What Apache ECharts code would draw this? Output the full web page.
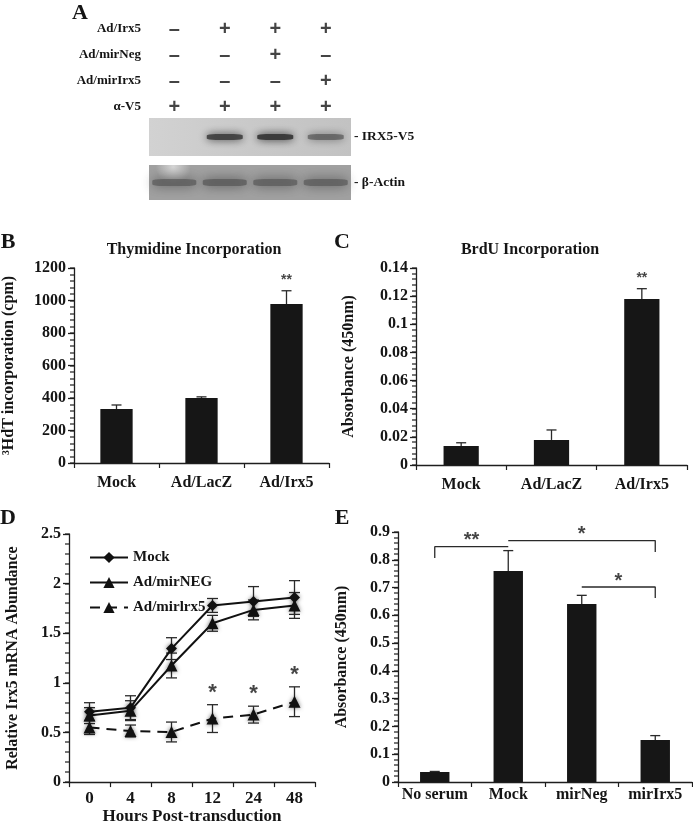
<!DOCTYPE html>
<html><head><meta charset="utf-8">
<script src="https://cdn.jsdelivr.net/npm/echarts@6/dist/echarts.min.js"></script>
<style>html,body{margin:0;padding:0;background:#fff}#c{width:693px;height:826px}</style>
</head><body><div id="c"></div>
<script>
// ---------- Panel A (western blot table) ----------
const lanes = ['1', '2', '3', '4'];
const tableRows = ['Ad/Irx5', 'Ad/mirNeg', 'Ad/mirIrx5', 'α-V5'];
const tableSigns = [
  ['-', '+', '+', '+'],
  ['-', '-', '+', '-'],
  ['-', '-', '-', '+'],
  ['+', '+', '+', '+']
];
const irx5Band = [0, 0.8, 0.9, 0.5];
const actinBand = [0.65, 0.7, 0.65, 0.65];
const blotLabels = ['IRX5-V5', 'β-Actin'];

// ---------- Panel B ----------
const bCats = ['Mock', 'Ad/LacZ', 'Ad/Irx5'];
const bVals = [332, 400, 978];
const bErr = [25, 7, 82];
const bSig = ['', '', '**'];

// ---------- Panel C ----------
const cCats = ['Mock', 'Ad/LacZ', 'Ad/Irx5'];
const cVals = [0.0135, 0.0178, 0.118];
const cErr = [0.0023, 0.0071, 0.0073];
const cSig = ['', '', '**'];

// ---------- Panel D ----------
const dHours = ['0', '4', '8', '12', '24', '48'];
const dMock = [0.71, 0.75, 1.345, 1.78, 1.82, 1.86];
const dMockErr = [0.09, 0.12, 0.11, 0.07, 0.15, 0.17];
const dNeg = [0.67, 0.72, 1.175, 1.6, 1.735, 1.78];
const dNegErr = [0.08, 0.1, 0.125, 0.08, 0.1, 0.13];
const dMir = [0.55, 0.515, 0.505, 0.64, 0.68, 0.81];
const dMirErr = [0.07, 0.06, 0.1, 0.14, 0.085, 0.15];
const dSig = ['', '', '', '*', '*', '*'];
const dNames = ['Mock', 'Ad/mirNEG', 'Ad/mirlrx5'];

// ---------- Panel E ----------
const eCats = ['No serum', 'Mock', 'mirNeg', 'mirIrx5'];
const eVals = [0.036, 0.76, 0.641, 0.151];
const eErr = [0.002, 0.073, 0.031, 0.016];
const eBrackets = [[0, 1], [1, 3], [2, 3]];
const eBracketY = [0.847, 0.869, 0.702];
const eBracketLegAt = [0, 3, 3];
const eBracketLegY = [0.806, 0.828, 0.662];
const eBracketSig = ['**', '*', '*'];

// ---------- styling helpers ----------
const SERIF = 'Liberation Serif';
const INK = '#151515';
const txt = (size) => ({ fontFamily: SERIF, fontWeight: 'bold', fontSize: size, color: INK });
const axisCol = '#1e1e1e';

function valAxis(gi, max, interval, name, nameGap, labelSize) {
  return {
    type: 'value', gridIndex: gi, min: 0, max: max, interval: interval, position: 'left',
    name: name, nameLocation: 'middle', nameGap: nameGap, nameTextStyle: txt(16),
    axisLine: { show: true, lineStyle: { color: axisCol, width: 1.3 } },
    axisTick: { show: true, length: 6, lineStyle: { color: axisCol, width: 1.3 } },
    splitLine: { show: false },
    axisLabel: Object.assign(txt(labelSize || 16), { margin: 8, formatter: v => String(+v.toFixed(4)) })
  };
}
// small ticks between the labelled ticks, placed through the value axis
function minorTickSeries(xi, yi, max, step) {
  const vals = [];
  for (let k = 0; k * step <= max + 1e-9; k++) vals.push([0, +(k * step).toFixed(6)]);
  return {
    type: 'custom', xAxisIndex: xi, yAxisIndex: yi, silent: true, clip: false, z: 8,
    encode: { x: 0, y: 1 }, data: vals,
    renderItem: (params, api) => {
      const y = Math.round(api.coord([0, api.value(1)])[1]);
      const x0 = params.coordSys.x;
      return { type: 'rect', shape: { x: x0 - 4, y: y - 0.6, width: 4, height: 1.2 }, style: { fill: axisCol } };
    }
  };
}
function catAxis(gi, data, margin, labelSize, extra) {
  return Object.assign({
    type: 'category', gridIndex: gi, data: data, boundaryGap: true,
    axisLine: { show: true, lineStyle: { color: axisCol, width: 1.3 } },
    axisTick: { show: true, length: 5, alignWithLabel: false, lineStyle: { color: axisCol, width: 1.2 } },
    splitLine: { show: false },
    axisLabel: Object.assign(txt(labelSize || 16), { margin: margin, interval: 0 })
  }, extra || {});
}
function errRender(capW, both) {
  return function (params, api) {
    const x = api.value(0), v = api.value(1), e = api.value(2);
    const top = api.coord([x, v + e]);
    const bot = api.coord([x, both ? v - e : v]);
    const st = { stroke: '#2a2a2a', lineWidth: 1.3 };
    const kids = [
      { type: 'line', shape: { x1: top[0], y1: top[1], x2: bot[0], y2: bot[1] }, style: st },
      { type: 'line', shape: { x1: top[0] - capW / 2, y1: top[1], x2: top[0] + capW / 2, y2: top[1] }, style: st }
    ];
    if (both) kids.push({ type: 'line', shape: { x1: bot[0] - capW / 2, y1: bot[1], x2: bot[0] + capW / 2, y2: bot[1] }, style: st });
    return { type: 'group', children: kids };
  };
}
function errSeries(xi, yi, vals, errs, capW, both, z) {
  return {
    type: 'custom', xAxisIndex: xi, yAxisIndex: yi, z: z || 5,
    renderItem: errRender(capW, both), encode: { x: 0, y: 1 },
    data: vals.map((v, i) => [i, v, errs[i]]), silent: true
  };
}
function sigSeries(xi, yi, points, size, dy) {
  return {
    type: 'scatter', xAxisIndex: xi, yAxisIndex: yi, symbolSize: 1, z: 10,
    itemStyle: { color: 'rgba(0,0,0,0)' }, silent: true,
    label: { show: true, position: 'inside', offset: [0, dy], formatter: p => p.value[2],
      fontFamily: 'Liberation Sans', fontWeight: 'bold', fontSize: size, color: INK },
    data: points
  };
}
const barStyle = { color: '#161616' };

// ---------- build series data ----------
const tableData = [];
tableSigns.forEach((row, r) => row.forEach((s, l) => tableData.push([l, r, s])));
const bandData = (arr) => arr.map((a, i) => ({ value: [i, 0], itemStyle: { opacity: a } }));

const bSigPts = bSig.map((s, i) => [i, bVals[i] + bErr[i], s]).filter(p => p[2]);
const cSigPts = cSig.map((s, i) => [i, cVals[i] + cErr[i], s]).filter(p => p[2]);
const dSigPts = dSig.map((s, i) => [i, dMir[i] + dMirErr[i], s]).filter(p => p[2]);

const bracketSeries = eBrackets.map((br, k) => {
  const x1 = br[0] + 0.5, x2 = br[1] + 0.5;
  const legX = eBracketLegAt[k] + 0.5;
  let pts;
  if (legX === x1) pts = [[x1, eBracketLegY[k]], [x1, eBracketY[k]], [x2, eBracketY[k]]];
  else pts = [[x1, eBracketY[k]], [x2, eBracketY[k]], [x2, eBracketLegY[k]]];
  return {
    type: 'line', xAxisIndex: 7, yAxisIndex: 6, data: pts, symbol: 'none', silent: true,
    lineStyle: { color: '#2a2a2a', width: 1.3 }, z: 6
  };
});
const eSigPts = eBrackets.map((br, k) => [(br[0] + br[1]) / 2 + 0.5, eBracketY[k], eBracketSig[k]]);

const chart = echarts.init(document.getElementById('c'), null, { renderer: 'canvas' });
const option = {
  animation: false,
  backgroundColor: '#fff',
  textStyle: { fontFamily: SERIF },
  grid: [
    { left: 149, top: 16, width: 202, height: 104 },               // 0 table
    { left: 149, top: 118, width: 202, height: 38, show: true, borderWidth: 0,
      backgroundColor: { type: 'linear', x: 0, y: 0, x2: 1, y2: 0,
        colorStops: [{ offset: 0, color: '#d2d2d2' }, { offset: 0.5, color: '#c9c9c9' }, { offset: 1, color: '#c2c2c2' }] } },
    { left: 149, top: 165, width: 202, height: 35, show: true, borderWidth: 0,
      backgroundColor: { type: 'radial', x: 0.12, y: 0.05, r: 0.5,
        colorStops: [{ offset: 0, color: '#d6d6d6' }, { offset: 1, color: '#a0a0a0' }] } },
    { left: 72, top: 268, width: 257, height: 195 },                // 3 B
    { left: 416, top: 268, width: 271, height: 197 },               // 4 C
    { left: 69, top: 534, width: 246, height: 249 },                // 5 D
    { left: 398, top: 532, width: 294, height: 250 }                // 6 E
  ],
  xAxis: [
    { type: 'category', gridIndex: 0, data: lanes, show: false },
    { type: 'category', gridIndex: 1, data: lanes, show: false },
    { type: 'category', gridIndex: 2, data: lanes, show: false },
    catAxis(3, bCats, 12, 16),
    catAxis(4, cCats, 12, 16),
    catAxis(5, dHours, 8, 17, { name: 'Hours Post-transduction', nameLocation: 'middle', nameGap: 25, nameTextStyle: txt(17) }),
    catAxis(6, eCats, 5, 16),
    { type: 'value', gridIndex: 6, min: 0, max: 4, show: false }
  ],
  yAxis: [
    { type: 'category', gridIndex: 0, data: tableRows, inverse: true,
      axisLine: { show: false }, axisTick: { show: false }, splitLine: { show: false },
      axisLabel: Object.assign(txt(13), { margin: 8 }) },
    { type: 'category', gridIndex: 1, data: [blotLabels[0]], position: 'right',
      axisLine: { show: false }, axisTick: { show: false }, splitLine: { show: false },
      axisLabel: Object.assign(txt(13.5), { margin: 3, formatter: v => '- ' + v }) },
    { type: 'category', gridIndex: 2, data: [blotLabels[1]], position: 'right',
      axisLine: { show: false }, axisTick: { show: false }, splitLine: { show: false },
      axisLabel: Object.assign(txt(13.5), { margin: 3, formatter: v => '- ' + v }) },
    valAxis(3, 1200, 200, '³HdT incorporation (cpm)', 57, 16),
    valAxis(4, 0.14, 0.02, 'Absorbance (450nm)', 59, 16),
    valAxis(5, 2.5, 0.5, 'Relative Irx5 mRNA Abundance', 48, 16),
    valAxis(6, 0.9, 0.1, 'Absorbance (450nm)', 48, 16)
  ],
  legend: {
    show: true, orient: 'vertical', left: 84, top: 545, itemWidth: 38, itemHeight: 14, itemGap: 10,
    data: dNames, textStyle: Object.assign(txt(15), { lineHeight: 14 }), selectedMode: false
  },
  graphic: [
    { type: 'text', x: 80, y: 13, style: { text: 'A', font: 'bold 22px "Liberation Serif"', fill: INK, textAlign: 'center', textVerticalAlign: 'middle' } },
    { type: 'text', x: 8, y: 242, style: { text: 'B', font: 'bold 22px "Liberation Serif"', fill: INK, textAlign: 'center', textVerticalAlign: 'middle' } },
    { type: 'text', x: 342, y: 242, style: { text: 'C', font: 'bold 22px "Liberation Serif"', fill: INK, textAlign: 'center', textVerticalAlign: 'middle' } },
    { type: 'text', x: 8, y: 518, style: { text: 'D', font: 'bold 22px "Liberation Serif"', fill: INK, textAlign: 'center', textVerticalAlign: 'middle' } },
    { type: 'text', x: 342, y: 518, style: { text: 'E', font: 'bold 22px "Liberation Serif"', fill: INK, textAlign: 'center', textVerticalAlign: 'middle' } },
    { type: 'text', x: 194, y: 250, style: { text: 'Thymidine Incorporation', font: 'bold 16px "Liberation Serif"', fill: INK, textAlign: 'center', textVerticalAlign: 'middle' } },
    { type: 'text', x: 530, y: 250, style: { text: 'BrdU Incorporation', font: 'bold 16px "Liberation Serif"', fill: INK, textAlign: 'center', textVerticalAlign: 'middle' } }
  ],
  series: [
    // table of +/- signs
    { type: 'scatter', xAxisIndex: 0, yAxisIndex: 0, symbolSize: 1, itemStyle: { color: 'rgba(0,0,0,0)' }, silent: true,
      label: { show: true, position: 'inside', formatter: p => p.value[2] === '+' ? '+' : '–',
        fontFamily: 'Liberation Sans', fontWeight: 'bold', fontSize: 20, color: INK },
      data: tableData },
    // blot bands
    { type: 'scatter', xAxisIndex: 1, yAxisIndex: 1, symbol: 'roundRect', symbolSize: [36, 6], silent: true,
      itemStyle: { color: '#333', shadowBlur: 9, shadowColor: 'rgba(30,30,30,1)' }, data: bandData(irx5Band) },
    { type: 'scatter', xAxisIndex: 2, yAxisIndex: 2, symbol: 'roundRect', symbolSize: [44, 7], silent: true,
      itemStyle: { color: '#555', shadowBlur: 12, shadowColor: 'rgba(50,50,50,1)' }, data: bandData(actinBand) },
    // B
    minorTickSeries(3, 3, 1200, 40),
    { type: 'bar', xAxisIndex: 3, yAxisIndex: 3, data: bVals, barWidth: '38%', itemStyle: barStyle },
    errSeries(3, 3, bVals, bErr, 10, false),
    sigSeries(3, 3, bSigPts, 14, -11),
    // C
    minorTickSeries(4, 4, 0.14, 0.004),
    { type: 'bar', xAxisIndex: 4, yAxisIndex: 4, data: cVals, barWidth: '39%', itemStyle: barStyle },
    errSeries(4, 4, cVals, cErr, 10, false),
    sigSeries(4, 4, cSigPts, 14, -11),
    // D
    minorTickSeries(5, 5, 2.5, 0.1),
    errSeries(5, 5, dMock, dMockErr, 11, true, 3),
    errSeries(5, 5, dNeg, dNegErr, 11, true, 3),
    errSeries(5, 5, dMir, dMirErr, 11, true, 3),
    { type: 'line', name: dNames[0], xAxisIndex: 5, yAxisIndex: 5, data: dMock, symbol: 'diamond', symbolSize: 11,
      lineStyle: { color: '#111', width: 2 }, itemStyle: { color: '#111', shadowBlur: 4, shadowColor: 'rgba(0,0,0,0.55)' }, z: 4 },
    { type: 'line', name: dNames[1], xAxisIndex: 5, yAxisIndex: 5, data: dNeg, symbol: 'triangle', symbolSize: 12,
      lineStyle: { color: '#111', width: 2 }, itemStyle: { color: '#111', shadowBlur: 4, shadowColor: 'rgba(0,0,0,0.55)' }, z: 4 },
    { type: 'line', name: dNames[2], xAxisIndex: 5, yAxisIndex: 5, data: dMir, symbol: 'triangle', symbolSize: 12,
      lineStyle: { color: '#111', width: 2, type: [10, 7] }, itemStyle: { color: '#111', shadowBlur: 4, shadowColor: 'rgba(0,0,0,0.55)' }, z: 4 },
    sigSeries(5, 5, dSigPts, 22, -12),
    // E
    minorTickSeries(6, 6, 0.9, 0.02),
    { type: 'bar', xAxisIndex: 6, yAxisIndex: 6, data: eVals, barWidth: '40%', itemStyle: barStyle },
    errSeries(6, 6, eVals, eErr, 10, false),
    ...bracketSeries,
    sigSeries(7, 6, eSigPts, 20, -6)
  ]
};
chart.setOption(option);
</script></body></html>
